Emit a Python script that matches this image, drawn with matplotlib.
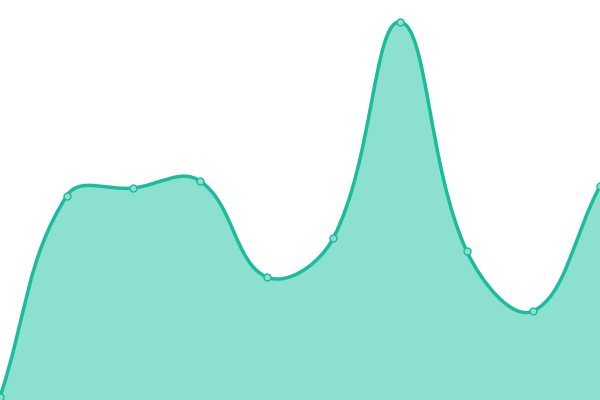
import numpy as np
import matplotlib
matplotlib.use("Agg")
import matplotlib.pyplot as plt
from matplotlib.path import Path
from matplotlib.patches import PathPatch

# values (0 = bottom, 400 = top)
labels = list(range(10))
values = [3, 204, 212, 219, 123, 162, 378, 149, 89, 214]

LINE = "#1abc9c"
FILL = "#8ce0d0"
TENSION = 0.4


def spline_path(xs, ys):
    # Chart.js style bezier with tension
    pts = np.column_stack([xs, ys]).astype(float)
    n = len(pts)
    cps = []
    for i in range(n):
        prev = pts[max(i - 1, 0)]
        cur = pts[i]
        nxt = pts[min(i + 1, n - 1)]
        d01 = np.hypot(*(cur - prev))
        d12 = np.hypot(*(nxt - cur))
        tot = d01 + d12
        s01 = d01 / tot if tot else 0
        s12 = d12 / tot if tot else 0
        fa = TENSION * s01
        fb = TENSION * s12
        cps.append((cur - fa * (nxt - prev), cur + fb * (nxt - prev)))
    verts = [pts[0]]
    codes = [Path.MOVETO]
    for i in range(1, n):
        verts += [cps[i - 1][1], cps[i][0], pts[i]]
        codes += [Path.CURVE4] * 3
    return verts, codes


fig = plt.figure(figsize=(6, 4), dpi=100)
ax = fig.add_axes([0, 0, 1, 1])
# pixel-like aspect: x spans 600 px, y 400 px
xs = np.array(labels, dtype=float) * (600 / 9)
ys = np.array(values, dtype=float)

verts, codes = spline_path(xs, ys)
fill_verts = verts + [(xs[-1], 0), (xs[0], 0), verts[0]]
fill_codes = codes + [Path.LINETO, Path.LINETO, Path.CLOSEPOLY]
ax.add_patch(PathPatch(Path(fill_verts, fill_codes), facecolor=FILL, edgecolor="none"))
ax.add_patch(PathPatch(Path(verts, codes), facecolor="none", edgecolor=LINE, lw=2.5,
                       capstyle="round", joinstyle="round"))
ax.plot(xs, ys, "o", ms=5, mfc=FILL, mec=LINE, mew=1, clip_on=False)

ax.set_xlim(0, 600)
ax.set_ylim(0, 400)
ax.axis("off")
fig.savefig("out.png", dpi=100)
